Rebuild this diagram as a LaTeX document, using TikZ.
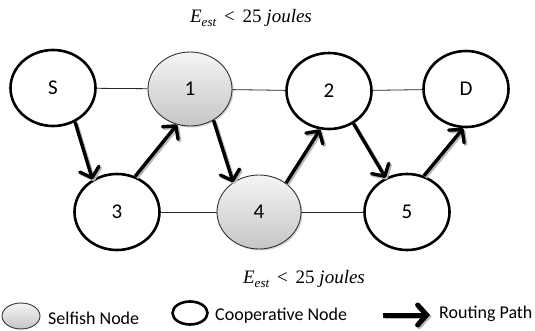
\documentclass[tikz,border=0pt]{standalone}
\usepackage{fontspec}
\setmainfont{Carlito}
\newfontfamily\eqfont{Liberation Serif}
\newcommand{\estlabel}{{\eqfont\itshape E\raisebox{-0.45ex}{\fontsize{13}{15}\selectfont est}\upshape\ \,<\ \,25\ \itshape joules}}
\usetikzlibrary{shapes.geometric,arrows.meta,shadows}
\begin{document}
\begin{tikzpicture}[x=1pt,y=-1pt,
  coop/.style={ellipse,draw=black,line width=2.6pt,fill=white,minimum width=85pt,minimum height=76pt,inner sep=0pt,font=\fontsize{21}{24}\selectfont},
  selfish/.style={ellipse,draw=black!80,line width=0.9pt,top color=gray!8,bottom color=gray!45,minimum width=84pt,minimum height=74pt,inner sep=0pt,font=\fontsize{21}{24}\selectfont,
     drop shadow={opacity=0.35,shadow xshift=1.5pt,shadow yshift=-1.5pt}},
  link/.style={line width=0.8pt,black!85},
  routetip/.style={-{Straight Barb[length=9pt,width=20pt,line cap=round,line join=round]}},
  route/.style={line width=3.4pt,routetip,
     preaction={draw=gray!55,line width=3.4pt,transform canvas={shift={(1.6pt,-1.6pt)}}}},
  lbl/.style={font=\fontsize{18}{21}\selectfont,inner sep=0pt,anchor=west},
  energy/.style={font=\fontsize{19}{22}\selectfont,inner sep=0pt}]
\useasboundingbox (0,0) rectangle (535,331);
% nodes
\node[coop] (S) at (53,88) {S};
\node[selfish] (n1) at (190,89) {1};
\node[coop] (n2) at (329,91) {2};
\node[coop] (D) at (466,89) {D};
\node[coop] (n3) at (117,212) {3};
\node[selfish] (n4) at (259,212) {4};
\node[coop] (n5) at (407,212) {5};
% links
\draw[link] (S) -- (n1);
\draw[link] (n1) -- (n2);
\draw[link] (n2) -- (D);
\draw[link] (n3) -- (n4);
\draw[link] (n4) -- (n5);
% routing
\draw[route] (S.-57) -- (n3.127);
\draw[route] (n3.63) -- (n1.250);
\draw[route] (n1.-53) -- (n4.131);
\draw[route] (n4.47) -- (n2.257);
\draw[route] (n2.-53) -- (n5.122);
\draw[route] (n5.65) -- (D.266);
% energy labels
\node[energy] (e1) at (251,18) {\estlabel};
\node[energy] (e2) at (304,279) {\estlabel};
% legend
\node[ellipse,draw=black!80,line width=0.9pt,top color=gray!8,bottom color=gray!45,minimum width=38pt,minimum height=26pt,inner sep=0pt] (ls) at (21,316) {};
\node[lbl] (lst) at (48,318) {Selfish Node};
\node[ellipse,draw=black,line width=2.6pt,fill=white,minimum width=35pt,minimum height=23pt,inner sep=0pt] (lc) at (190,313) {};
\node[lbl] (lct) at (215,316) {Cooperative Node};
\coordinate (la) at (383,315);
\coordinate (lb) at (430,315);
\draw[line width=5pt,-{Straight Barb[length=9pt,width=20pt,line cap=round]},
  preaction={draw=gray!55,line width=5pt,transform canvas={shift={(1.6pt,-1.6pt)}}}] (la) -- (lb);
\node[lbl] (lrt) at (439,314) {Routing Path};
\end{tikzpicture}
\end{document}
